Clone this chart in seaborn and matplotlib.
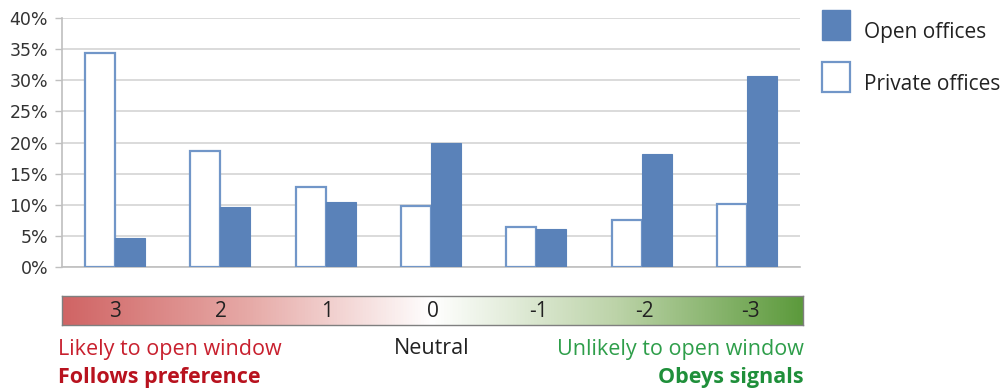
import numpy as np
import pandas as pd
import matplotlib
matplotlib.use("Agg")
import matplotlib.pyplot as plt
from matplotlib.patches import Patch, Rectangle
from matplotlib.legend_handler import HandlerPatch
from matplotlib.colors import LinearSegmentedColormap
import seaborn as sns

# Response scale, from "likely to open window" (3) to "unlikely" (-3)
scale = ["3", "2", "1", "0", "-1", "-2", "-3"]
private_offices = [34.4, 18.6, 12.8, 9.8, 6.4, 7.5, 10.1]
open_offices = [4.7, 9.6, 10.4, 19.9, 6.1, 18.2, 30.7]
series = ["Private offices", "Open offices"]
y_ticks = [0, 5, 10, 15, 20, 25, 30, 35, 40]

BLUE = "#5a82b9"
EDGE = "#7196c8"

df = pd.DataFrame({
    "score": scale * 2,
    "share": private_offices + open_offices,
    "office": [series[0]] * len(scale) + [series[1]] * len(scale),
})

sns.set_style("white")
plt.rcParams["font.family"] = ["DejaVu Sans"]

W, H = 1007, 389
fig = plt.figure(figsize=(W / 100, H / 100), dpi=100)
ax = fig.add_axes([62 / W, 1 - 267 / H, (800 - 62) / W, (267 - 18) / H])

sns.barplot(data=df, x="score", y="share", hue="office", order=scale,
            hue_order=series, palette=[BLUE, BLUE], width=0.57, gap=0,
            dodge=True, ax=ax, legend=False, saturation=1, zorder=3)

n = len(scale)
for i, bar in enumerate(ax.patches[: 2 * n]):
    if i < n:
        bar.set_facecolor("white")
        bar.set_edgecolor(EDGE)
        bar.set_linewidth(1.6)
    else:
        bar.set_facecolor(BLUE)
        bar.set_edgecolor(BLUE)
        bar.set_linewidth(0.8)

ax.set_xlim(-0.5, n - 0.5)
ax.set_ylim(0, 40)
ax.set_yticks(y_ticks)
ax.set_yticklabels([f"{v}%" for v in y_ticks], fontsize=12.5, color="#333333")
ax.yaxis.grid(True, color="#d4d4d4", linewidth=1.2, zorder=0)
ax.set_axisbelow(True)
ax.set_xlabel("")
ax.set_ylabel("")
ax.set_xticks(np.arange(-0.5, n, 1.0))
ax.set_xticklabels([])
ax.tick_params(axis="x", direction="out", length=4, color="#bfbfbf", width=1)
ax.tick_params(axis="y", direction="out", length=5, color="#bfbfbf", width=1, pad=5, left=True)
for side in ["top", "right"]:
    ax.spines[side].set_visible(False)
for side in ["left", "bottom"]:
    ax.spines[side].set_color("#bfbfbf")
    ax.spines[side].set_linewidth(1.2)


def raised_square(legend, orig_handle, xdescent, ydescent, width, height, fontsize):
    # square key lifted slightly so the label sits near its lower half
    return Rectangle((-xdescent, -ydescent + 4.5), width, height)


# Legend to the right of the plot
handles = [Patch(facecolor=BLUE, edgecolor=BLUE, label="Open offices"),
           Patch(facecolor="white", edgecolor=EDGE, linewidth=1.6, label="Private offices")]
fig.legend(handles=handles, loc="upper left", bbox_to_anchor=(822 / W, 1 - 16 / H),
           frameon=False, prop={"family": "Open Sans", "size": 15},
           borderpad=0, borderaxespad=0,
           handlelength=1.34, handleheight=1.84, labelspacing=1.085, handletextpad=0.7,
           labelcolor="#222222",
           handler_map={Patch: HandlerPatch(patch_func=raised_square)})

# Colour scale strip under the bars
cmap = LinearSegmentedColormap.from_list(
    "pref", ["#d06464", "#e6a9a6", "#ffffff", "#bcd3a8", "#5c9a3c"])
sx = fig.add_axes([62 / W, 1 - 325 / H, (803 - 62) / W, (325 - 296) / H])
sx.imshow(np.linspace(0, 1, 512)[None, :], aspect="auto", cmap=cmap,
          extent=[-0.5, n - 0.5, 0, 1])
sx.set_xlim(-0.5, n - 0.5)
sx.set_ylim(0, 1)
sx.set_xticks([])
sx.set_yticks([])
for sp in sx.spines.values():
    sp.set_color("#7f7f7f")
    sp.set_linewidth(1.0)
for i, lab in enumerate(scale):
    sx.text(i, 0.45, lab, ha="center", va="center", fontsize=15,
            family="Open Sans", color="#222222")

# Captions under the strip
fig.text(58 / W, 1 - 349 / H, "Likely to open window", ha="left", va="center",
         fontsize=15.5, family="Open Sans", color="#c8202e")
fig.text(58 / W, 1 - 377 / H, "Follows preference", ha="left", va="center",
         fontsize=15.5, family="Open Sans", weight="bold", color="#b8121e")
fig.text(432 / W, 1 - 349 / H, "Neutral", ha="center", va="center",
         fontsize=15.5, family="Open Sans", color="#222222")
fig.text(804 / W, 1 - 349 / H, "Unlikely to open window", ha="right", va="center",
         fontsize=15.5, family="Open Sans", color="#2e9e4a")
fig.text(804 / W, 1 - 377 / H, "Obeys signals", ha="right", va="center",
         fontsize=15.5, family="Open Sans", weight="bold", color="#1f8f3a")

fig.savefig("out.png", dpi=100)
